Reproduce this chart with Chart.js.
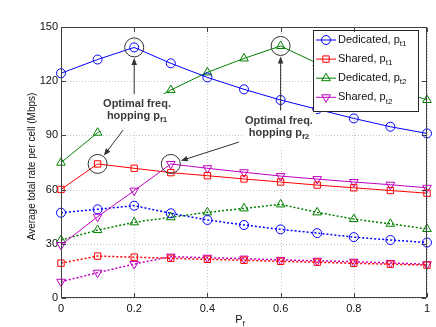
<!DOCTYPE html>
<html>
<head>
<meta charset="utf-8">
<script src="https://cdn.jsdelivr.net/npm/chart.js@4.4.0/dist/chart.umd.min.js"></script>
<style>
html, body { margin: 0; padding: 0; background: #fff; }
#wrap { width: 436px; height: 327px; }
</style>
</head>
<body>
<div id="wrap"><canvas id="rateChart" width="436" height="327"></canvas></div>
<script>
const pf = [0, 0.1, 0.2, 0.3, 0.4, 0.5, 0.6, 0.7, 0.8, 0.9, 1];

// solid lines
const dedicatedT1 = [124.4, 132.0, 138.7, 129.9, 122.1, 115.5, 109.6, 104.5, 99.4, 94.8, 91.1];
const sharedT1 = [60.1, 74.2, 71.8, 69.4, 67.7, 65.9, 64.2, 62.5, 61.0, 59.5, 58.0];
const dedicatedT2 = [74.9, 91.5, 103.5, 115.1, 124.9, 132.6, 139.5, 129.9, 123.0, 116.5, 109.6];
const sharedT2 = [29.3, 45.0, 59.4, 74.2, 71.8, 69.6, 67.5, 65.8, 64.2, 62.7, 61.0];

// dotted lines
const dedicatedT1Dot = [47.2, 49.1, 51.1, 46.9, 43.2, 40.4, 38.0, 35.9, 33.7, 32.1, 30.7];
const sharedT1Dot = [19.3, 23.2, 22.6, 22.0, 21.4, 20.9, 20.3, 19.8, 19.2, 18.7, 18.2];
const dedicatedT2Dot = [32.1, 37.6, 41.9, 44.7, 47.4, 49.6, 51.8, 47.4, 43.7, 41.1, 38.2];
const sharedT2Dot = [9.0, 14.0, 18.8, 22.9, 22.3, 21.8, 21.1, 20.6, 20.1, 19.4, 18.7];

const yTicks = [0, 30, 60, 90, 120, 150];
const xTickLabels = ['0', '0.2', '0.4', '0.6', '0.8', '1'];

const FONT = '"Liberation Sans", Arial, sans-serif';

function pts(arr) {
    return pf.map((x, i) => ({ x: x, y: arr[i] }));
}

function series(label, arr, color, style, rot, dotted) {
    return {
        label: label,
        data: pts(arr),
        borderColor: color,
        backgroundColor: 'transparent',
        borderWidth: dotted ? 1.5 : 1,
        borderDash: dotted ? [2, 2] : [],
        pointStyle: style,
        rotation: rot,
        pointRadius: style === 'triangle' ? 5 : 4.5,
        pointBorderWidth: 1,
        pointBorderColor: color,
        pointBackgroundColor: 'transparent',
        tension: 0,
        fill: false,
        clip: false,
        showInLegend: !dotted
    };
}

const datasets = [
    series('Dedicated, p_t1', dedicatedT1, '#0000ff', 'circle', 0, false),
    series('Shared, p_t1', sharedT1, '#ff0000', 'rect', 0, false),
    series('Dedicated, p_t2', dedicatedT2, '#008000', 'triangle', 0, false),
    series('Shared, p_t2', sharedT2, '#c000c0', 'triangle', 180, false),
    series('Dedicated, p_t1 (dotted)', dedicatedT1Dot, '#0000ff', 'circle', 0, true),
    series('Shared, p_t1 (dotted)', sharedT1Dot, '#ff0000', 'rect', 0, true),
    series('Dedicated, p_t2 (dotted)', dedicatedT2Dot, '#008000', 'triangle', 0, true),
    series('Shared, p_t2 (dotted)', sharedT2Dot, '#c000c0', 'triangle', 180, true)
];

// text with a subscript part
function subText(ctx, base, sub, x, y, size, bold, align) {
    const w = bold ? 'bold ' : '';
    ctx.font = w + size + 'px ' + FONT;
    const w1 = ctx.measureText(base).width;
    ctx.font = w + Math.round(size * 0.72) + 'px ' + FONT;
    const w2 = ctx.measureText(sub).width;
    let sx = align === 'center' ? x - (w1 + w2) / 2 : x;
    ctx.textAlign = 'left';
    ctx.textBaseline = 'middle';
    ctx.font = w + size + 'px ' + FONT;
    ctx.fillText(base, sx, y);
    ctx.font = w + Math.round(size * 0.72) + 'px ' + FONT;
    ctx.fillText(sub, sx + w1, y + 4);
}

function arrow(ctx, x1, y1, x2, y2) {
    const ang = Math.atan2(y2 - y1, x2 - x1);
    ctx.beginPath();
    ctx.moveTo(x1, y1);
    ctx.lineTo(x2 - 5 * Math.cos(ang), y2 - 5 * Math.sin(ang));
    ctx.stroke();
    ctx.beginPath();
    ctx.moveTo(x2, y2);
    ctx.lineTo(x2 - 7 * Math.cos(ang) + 2.8 * Math.sin(ang), y2 - 7 * Math.sin(ang) - 2.8 * Math.cos(ang));
    ctx.lineTo(x2 - 7 * Math.cos(ang) - 2.8 * Math.sin(ang), y2 - 7 * Math.sin(ang) + 2.8 * Math.cos(ang));
    ctx.closePath();
    ctx.fill();
}

const decor = {
    id: 'decor',
    beforeDatasetsDraw(chart) {
        // dotted grid
        const ctx = chart.ctx;
        const a = chart.chartArea;
        const xs = chart.scales.x, ys = chart.scales.y;
        ctx.save();
        ctx.strokeStyle = '#c8c8c8';
        ctx.lineWidth = 1;
        ctx.setLineDash([1, 2]);
        ctx.beginPath();
        xs.ticks.forEach(t => {
            const x = Math.round(xs.getPixelForValue(t.value)) + 0.5;
            ctx.moveTo(x, a.top); ctx.lineTo(x, a.bottom);
        });
        ys.ticks.forEach(t => {
            const y = Math.round(ys.getPixelForValue(t.value)) + 0.5;
            ctx.moveTo(a.left, y); ctx.lineTo(a.right, y);
        });
        ctx.stroke();
        ctx.restore();
    },
    afterDraw(chart) {
        const ctx = chart.ctx;
        const a = chart.chartArea;
        const xs = chart.scales.x, ys = chart.scales.y;
        const px = v => xs.getPixelForValue(v);
        const py = v => ys.getPixelForValue(v);
        ctx.save();
        ctx.setLineDash([]);

        // optimal points with annotation boxes
        const notes = [
            { tx: 0.2077, ty: 104.0, sub: 'f1', main: [0.2, dedicatedT1[2]], other: [0.1, sharedT1[1]], tail: [-14, 20] },
            { tx: 0.5956, ty: 94.9, sub: 'f2', main: [0.6, dedicatedT2[6]], other: [0.3, sharedT2[3]], tail: [-40, 15.5] }
        ];
        const R = 9.5;
        notes.forEach(n => {
            const cx = px(n.tx), cy = py(n.ty);
            ctx.fillStyle = '#fff';
            ctx.fillRect(cx - 37, cy - 16, 74, 37);
            ctx.strokeStyle = '#333';
            ctx.lineWidth = 1;
            [n.main, n.other].forEach(p => {
                ctx.beginPath();
                ctx.arc(px(p[0]), py(p[1]), R, 0, Math.PI * 2);
                ctx.stroke();
            });
            ctx.fillStyle = '#3a3a3a';
            ctx.font = 'bold 11px ' + FONT;
            ctx.textAlign = 'center';
            ctx.textBaseline = 'middle';
            ctx.fillText('Optimal freq.', cx, cy - 6);
            subText(ctx, 'hopping p', n.sub, cx, cy + 6, 11, true, 'center');

            ctx.strokeStyle = '#333';
            ctx.fillStyle = '#333';
            const mx = px(n.main[0]), my = py(n.main[1]);
            arrow(ctx, mx, cy - 16, mx, my + R + 1);
            const tx = cx + n.tail[0], ty = cy + n.tail[1];
            const ox = px(n.other[0]), oy = py(n.other[1]);
            const d = Math.hypot(tx - ox, ty - oy);
            arrow(ctx, tx, ty, ox + (tx - ox) / d * (R + 1), oy + (ty - oy) / d * (R + 1));
        });

        // legend box
        const lx = 313.5, ly = 30.5, lw = 105, lh = 81;
        ctx.fillStyle = '#fff';
        ctx.fillRect(lx, ly, lw, lh);
        ctx.strokeStyle = '#262626';
        ctx.lineWidth = 1;
        ctx.strokeRect(lx, ly, lw, lh);
        chart.data.datasets.filter(d => d.showInLegend).forEach((d, i) => {
            const y = 40 + i * 19.1;
            ctx.strokeStyle = d.borderColor;
            ctx.lineWidth = 1;
            ctx.setLineDash([]);
            ctx.beginPath();
            ctx.moveTo(316, y);
            ctx.lineTo(336, y);
            ctx.stroke();
            ctx.fillStyle = 'rgba(0,0,0,0)';
            Chart.helpers.drawPoint(ctx, { pointStyle: d.pointStyle, rotation: d.rotation, radius: d.pointRadius, borderWidth: 1 }, 326, y);
            const parts = d.label.split('_');
            ctx.fillStyle = '#111';
            subText(ctx, parts[0], parts[1], 338, y, 11, false, 'left');
        });

        // frame and inward ticks, as filled 1px bars
        ctx.fillStyle = '#404040';
        const L = Math.round(a.left), Rr = Math.round(a.right) - 1;
        const T = Math.round(a.top), B = Math.round(a.bottom) - 1;
        ctx.fillRect(L, T, Rr - L + 1, 1);
        ctx.fillRect(L, B, Rr - L + 1, 1);
        ctx.fillRect(L, T, 1, B - T + 1);
        ctx.fillRect(Rr, T, 1, B - T + 1);
        xs.ticks.forEach(t => {
            const x = Math.round(px(t.value));
            ctx.fillRect(x, B - 4, 1, 4);
            ctx.fillRect(x, T + 1, 1, 4);
        });
        ys.ticks.forEach(t => {
            const y = Math.round(py(t.value));
            ctx.fillRect(L + 1, y, 4, 1);
            ctx.fillRect(Rr - 4, y, 4, 1);
        });

        // axis titles
        ctx.fillStyle = '#111';
        subText(ctx, 'P', 'f', (a.left + a.right) / 2 - 4, 320, 11, false, 'center');
        ctx.translate(32, (a.top + a.bottom) / 2 + 4);
        ctx.rotate(-Math.PI / 2);
        ctx.font = '10px ' + FONT;
        ctx.textAlign = 'center';
        ctx.textBaseline = 'middle';
        ctx.fillText('Average total rate per cell (Mbps)', 0, 0);
        ctx.restore();
    }
};

new Chart(document.getElementById('rateChart').getContext('2d'), {
    type: 'line',
    data: { datasets: datasets },
    options: {
        responsive: false,
        animation: false,
        devicePixelRatio: 1,
        layout: { padding: { top: 27, right: 9, left: 0, bottom: 0 } },
        plugins: { legend: { display: false }, tooltip: { enabled: false } },
        scales: {
            x: {
                type: 'linear',
                min: 0,
                max: 1,
                afterFit: s => { s.height = 29; },
                ticks: {
                    stepSize: 0.2,
                    autoSkip: false,
                    maxRotation: 0,
                    padding: 4,
                    color: '#111',
                    font: { size: 11, family: FONT },
                    callback: (v, i) => xTickLabels[i]
                },
                grid: { display: false, drawTicks: false },
                border: { display: false }
            },
            y: {
                min: 0,
                max: 150,
                afterFit: s => { s.width = 61; },
                afterBuildTicks: s => { s.ticks = yTicks.map(v => ({ value: v })); },
                ticks: {
                    padding: 3,
                    color: '#111',
                    font: { size: 11, family: FONT },
                    callback: v => String(v)
                },
                grid: { display: false, drawTicks: false },
                border: { display: false }
            }
        }
    },
    plugins: [decor]
});
</script>
</body>
</html>
